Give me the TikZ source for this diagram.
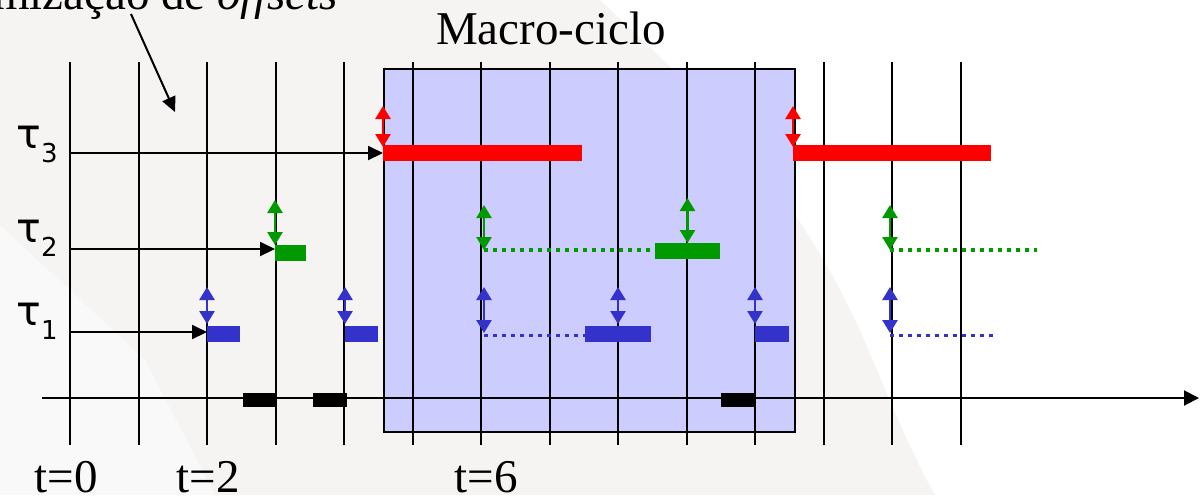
\documentclass[tikz,border=0pt]{standalone}
\usepackage{fontspec}
\setmainfont{Liberation Serif}
\newfontfamily\taufont{DejaVu Sans}
\usetikzlibrary{arrows.meta,calc}
\definecolor{taured}{RGB}{255,0,0}
\definecolor{taugreen}{RGB}{0,153,0}
\definecolor{taublue}{RGB}{51,51,204}
\definecolor{macro}{RGB}{204,204,255}
\definecolor{paper}{RGB}{246,243,243}
\definecolor{paperlight}{RGB}{250,249,249}
\tikzset{
  slot/.style={
    inner sep = 0pt,
    outer sep = 0pt,
    shape = rectangle,
    anchor = west,
    minimum height = 8pt
  },
  busy/.style={
    slot,
    fill = black,
    minimum height = 7pt
  },
  gridline/.style={
    line width = 1pt
  },
  jitter/.style={
    line width = 1.3pt,
    >={Triangle[width=7.5pt,length=6.5pt]},
    <->
  },
  release/.style={
    line width = 1pt,
    >={Triangle[width=7pt,length=7.5pt]},
    ->
  },
  idle/.style={
    dash pattern = on 2pt off 2.5pt
  },
  every picture/.style = {
    font=\fontsize{23.5}{28}\selectfont
  },
  task/.style={
    font = \taufont\fontsize{20.5}{24}\selectfont,
    anchor = base west,
    inner sep = 0pt
  }
}

\begin{document}
\begin{tikzpicture}[x=0.5pt,y=-0.5pt]
    \clip[use as bounding box] (0,0) rectangle (1201,495);
    % faint background of the slide
    \fill[paper] (0,0) rectangle (1201,495);
    \fill[white] (600,0) .. controls (720,110) and (800,200) .. (860,330)
      .. controls (890,400) and (910,450) .. (935,495) -- (1201,495) -- (1201,0) -- cycle;
    \fill[paperlight] (0,225) -- (145,360) -- (215,495) -- (0,495) -- cycle;

    \node[fill=macro,draw,line width=0.8pt,inner sep=0pt,anchor=north west,
      minimum width=205.5pt,minimum height=181.5pt] (macro) at (383,68) {};
    \node[anchor=base] (mtitle) at (551,44) {Macro-ciclo};
    \node[anchor=base east,inner sep=0pt] (otim) at (338,9) {Otimização de \textit{offsets}};
    \coordinate (ofrom) at (131,14);
    \coordinate (otip) at (175,112);
    \draw[release] (ofrom) -- (otip);

    \foreach \i in {0,...,13}{
      \draw[gridline] ({70+68.5*\i},62) -- ({70+68.5*\i},445);
    }
    \coordinate (ax0) at (42,398);
    \coordinate (ax1) at (1199,398);
    \draw[line width=1pt,>={Triangle[width=7.5pt,length=7.5pt]},->] (ax0) -- (ax1);
    \foreach \x [count=\k] in {243,313,721}{
      \node[busy,minimum width=17pt] (k\k) at (\x,400) {};
    }

    \node[slot,fill=taured,minimum width=99.5pt] (r1) at (383,153) {};
    \node[slot,fill=taured,minimum width=99pt] (r2) at (793,153) {};
    \node[slot,fill=taugreen,minimum width=15.5pt] (g1) at (275,253) {};
    \node[slot,fill=taugreen,minimum width=32.5pt] (g2) at (655,251) {};
    \foreach \x/\w [count=\k] in {207/16.5,345/16.5,585/33,755/17}{
      \node[slot,fill=taublue,minimum width=\w pt] (b\k) at (\x,334) {};
    }

    \coordinate (gi1) at (484,250);
    \coordinate (gi2) at (890,250);
    \coordinate (ge2) at (1037,250);
    \coordinate (bi1) at (484,335);
    \coordinate (bi2) at (890,335);
    \coordinate (be2) at (995,335);
    \draw[idle,taugreen,line width=2pt] (gi1) -- (gi1 -| g2.west);
    \draw[idle,taugreen,line width=2pt] (gi2) -- (ge2);
    \draw[idle,taublue,line width=1.5pt] (bi1) -- (bi1 -| b3.west);
    \draw[idle,taublue,line width=1.5pt] (bi2) -- (be2);

    \foreach \n in {r1,r2}{
      \coordinate (j\n) at ($(\n.north west)+(0,-39)$);
      \draw[jitter,taured] (j\n) -- ($(\n.north west)+(0,2)$);
    }
    \foreach \n/\a in {g1/north west,g2/north,gi1/center,gi2/center}{
      \coordinate (j\n) at ($(\n.\a)+(0,-45)$);
      \draw[jitter,taugreen] (j\n) -- (\n.\a);
    }
    \foreach \n/\a in {b1/north west,b2/north west,bi1/center,b3/north,b4/north west,bi2/center}{
      \coordinate (j\n) at (\n.\a |- 0,287);
      \draw[jitter,taublue] (j\n) -- ($(\n.\a)+(0,-2)$);
    }

    \coordinate (s3) at (70,153);
    \coordinate (s2) at (70,249);
    \coordinate (s1) at (70,332);
    \draw[release] (s3) -- (r1.west);
    \draw[release] (s2) -- (s2 -| g1.west);
    \draw[release] (s1) -- (s1 -| b1.west);

    \foreach \k/\y in {3/148,2/242,1/325}{
      \node[task] (tau\k) at (16,\y) {τ\raisebox{-7pt}{\fontsize{13}{13}\selectfont\k}};
    }
    \foreach \x/\t in {66/0,208/2,486/6}{
      \node[anchor=base] (lab\t) at (\x,492) {t=\t};
    }
\end{tikzpicture}
\end{document}
